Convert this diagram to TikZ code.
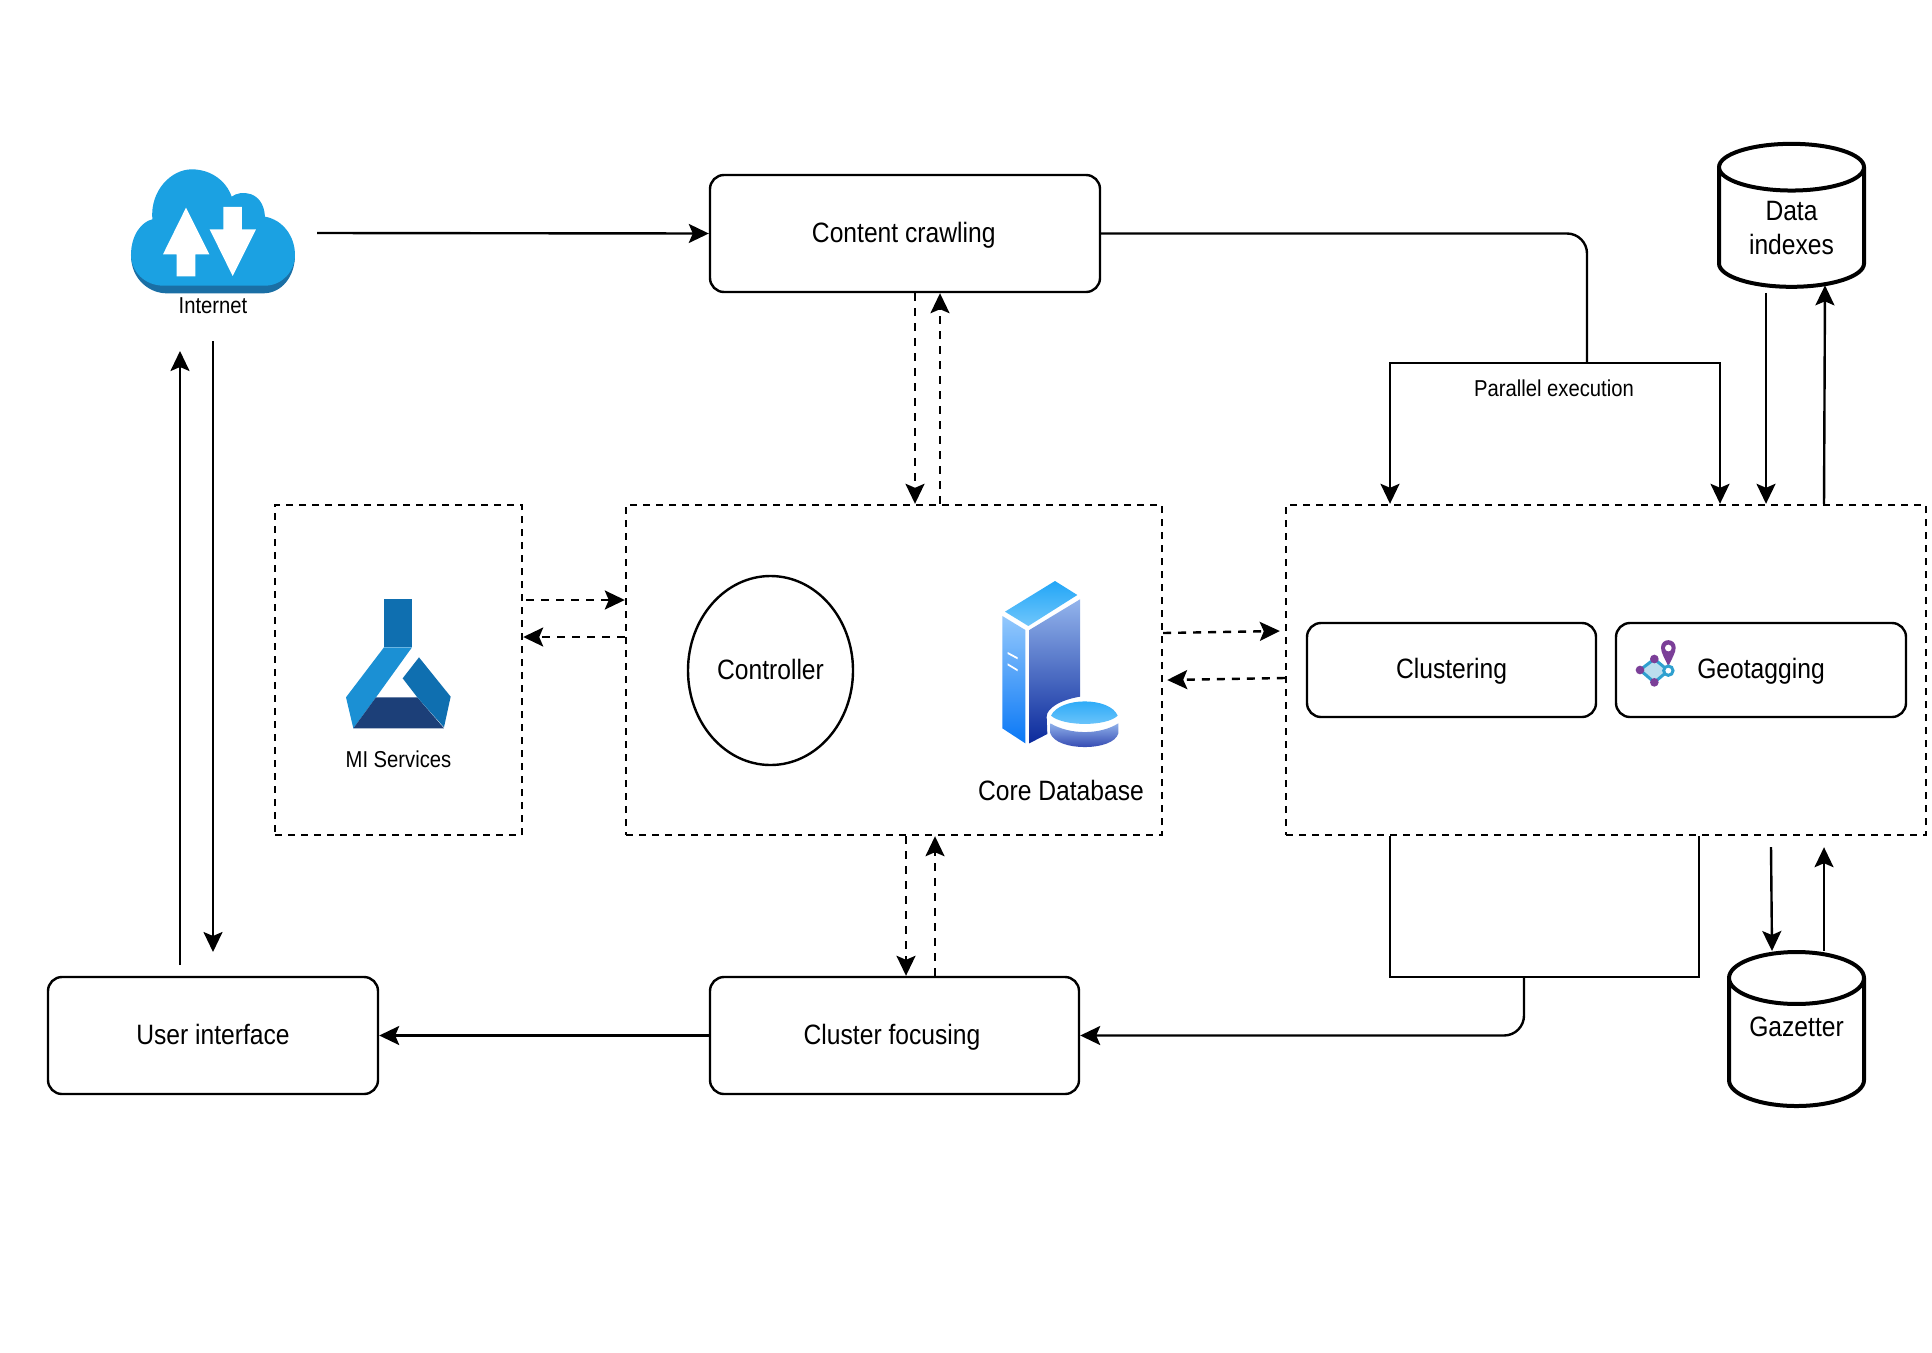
\documentclass[tikz,border=0pt]{standalone}
\usepackage{fontspec}
\setmainfont[FakeStretch=0.88]{Liberation Sans}
\usetikzlibrary{arrows.meta,shapes.geometric}
\definecolor{cloudblue}{HTML}{1BA1E2}
\definecolor{clouddark}{HTML}{1A6FA5}
\definecolor{flaskmid}{HTML}{0F6FB0}
\definecolor{flasklight}{HTML}{1B90D4}
\definecolor{flaskdark}{HTML}{1C3F78}
\definecolor{geopurple}{HTML}{7B3F98}
\definecolor{geoblue}{HTML}{2FA0CF}
\definecolor{geofill}{HTML}{BBDDEE}
\definecolor{srvtopa}{HTML}{22A6F7}
\definecolor{srvtopb}{HTML}{70C6FB}
\definecolor{srvlefta}{HTML}{93C8FC}
\definecolor{srvleftb}{HTML}{0A78F6}
\definecolor{srvrighta}{HTML}{93B4EC}
\definecolor{srvrightb}{HTML}{0B2A9C}
\definecolor{disca}{HTML}{8FB0EA}
\definecolor{discb}{HTML}{2438A8}
\tikzset{
  boxtext/.style={font=\fontsize{28}{34}\selectfont,align=center,text=black},
  smalltext/.style={font=\fontsize{23}{28}\selectfont,align=center,text=black,inner sep=0pt},
  roundbox/.style={boxtext,draw=black,line width=2.4pt,rounded corners=14pt,inner sep=0pt,text height=17.5pt,text depth=0pt},
  dashbox/.style={draw=black,line width=2.4pt,dash pattern=on 7pt off 6pt,inner sep=0pt},
  db/.style={boxtext,draw=black,line width=4pt,cylinder,shape border rotate=90,aspect=0.55,inner sep=0pt},
  conn/.style={draw=black,line width=2.4pt},
  arrow/.style={conn,-{Stealth[length=20pt,width=19pt,inset=4pt]}},
  dasharrow/.style={arrow,dash pattern=on 8pt off 7pt},
}
\begin{document}
\begin{tikzpicture}[x=1pt,y=-1pt]
\useasboundingbox[fill=white] (0,0) rectangle (1932,1352);

% cloud icon
\begin{scope}[shift={(100,140)},x=0.3333pt,y=-0.3333pt]
  \fill[clouddark] (93,345) .. controls (93,420) and (150,460) .. (200,460) -- (490,460) .. controls (545,460) and (585,410) .. (585,345) -- cycle;
  \fill[cloudblue] (93,345) .. controls (93,285) and (125,245) .. (157,238)
    .. controls (150,150) and (215,88) .. (275,88)
    .. controls (335,88) and (380,125) .. (395,170)
    .. controls (420,150) and (490,150) .. (495,230)
    .. controls (550,240) and (585,290) .. (585,345)
    .. controls (585,395) and (545,437) .. (495,437) -- (190,437)
    .. controls (135,437) and (93,395) .. (93,345) -- cycle;
  \fill[white] (258,203) -- (328,343) -- (286,343) -- (286,409) -- (230,409) -- (230,343) -- (189,343) -- cycle;
  \fill[white] (370,201) -- (426,201) -- (426,268) -- (468,268) -- (398,408) -- (329,268) -- (370,268) -- cycle;
\end{scope}

% flask icon
\begin{scope}[shift={(320,570)},x=0.3333pt,y=-0.3333pt]
  \fill[flaskmid] (192,87) rectangle (276,232);
  \fill[flasklight] (192,232) -- (276,232) -- (168,382) -- (100,475) -- (78,382) -- cycle;
  \fill[flaskdark] (168,382) -- (292,382) -- (372,475) -- (100,475) -- cycle;
  \fill[flaskmid] (297,262) -- (392,380) -- (372,472) -- (292,382) -- (248,325) -- cycle;
\end{scope}

% server icon
\begin{scope}[shift={(970,560)},x=0.3333pt,y=-0.3333pt]
  \shade[top color=srvtopa,bottom color=srvtopb] (255,63) -- (322,105) -- (175,198) -- (105,155) -- cycle;
  \shade[top color=srvlefta,bottom color=srvleftb] (97,168) -- (166,210) -- (166,550) -- (97,505) -- cycle;
  \fill[white] (113,276) -- (113,282) -- (143,298) -- (143,292) -- cycle;
  \fill[white] (113,310) -- (113,316) -- (143,334) -- (143,328) -- cycle;
  \shade[top color=srvrighta,bottom color=srvrightb] (178,210) -- (330,118) -- (330,410) .. controls (270,420) and (230,445) .. (230,470) -- (232,522) -- (178,550) -- cycle;
  \shade[top color=disca,bottom color=discb] (241,490) .. controls (300,525) and (390,525) .. (445,490) -- (445,520) .. controls (430,575) and (260,575) .. (241,520) -- cycle;
  \shade[top color=srvtopa,bottom color=srvtopb] (243,467) .. controls (270,410) and (420,410) .. (443,467) .. controls (410,500) and (280,500) .. (243,467) -- cycle;
\end{scope}

% boxes
\node[roundbox,minimum width=390pt,minimum height=117pt] (crawl) at (905,233.5) {\hspace*{-2.5pt}Content crawling};
\node[roundbox,minimum width=369pt,minimum height=117pt] (focus) at (894.5,1035.5) {\hspace*{-5pt}Cluster focusing};
\node[roundbox,minimum width=330pt,minimum height=117pt] (ui) at (213,1035.5) {User interface};
\node[dashbox,minimum width=247pt,minimum height=330pt] (ml) at (398.5,670) {};
\node[dashbox,minimum width=536pt,minimum height=330pt] (core) at (894,670) {};
\node[dashbox,minimum width=640pt,minimum height=330pt] (proc) at (1606,670) {};
\node[roundbox,minimum width=289pt,minimum height=94pt] (clust) at (1451.5,670) {Clustering};
\node[roundbox,minimum width=290pt,minimum height=94pt] (geo) at (1761,670) {Geotagging};
\node[boxtext,draw=black,line width=2.4pt,ellipse,minimum width=165pt,minimum height=189pt,inner sep=0pt,text height=17.5pt,text depth=0pt] (ctrl) at (770.5,670.5) {Controller};
\node[db,minimum width=145pt,minimum height=143pt] (data) at (1791.5,228) {Data\\indexes};
\node[db,minimum width=135pt,minimum height=154pt,text depth=33pt] (gaz) at (1796.5,1043) {Gazetter};
\node[smalltext] (inet) at (213,306) {Internet};
\node[smalltext] (mllabel) at (398.5,759) {MI Services};
\node[boxtext,inner sep=0pt] (corelabel) at (1061,790) {Core Database};
\node[smalltext] (parlabel) at (1554,388) {Parallel execution};

% geotag icon
\begin{scope}[shift={(1610,610)},x=0.3333pt,y=-0.3333pt]
  \filldraw[fill=geofill,draw=geoblue,line width=3pt] (90,180) -- (133,147) -- (175,182) -- (133,217) -- cycle;
  \fill[geopurple] (90,180) circle[radius=13];
  \fill[geopurple] (133,147) circle[radius=13];
  \fill[geopurple] (133,217) circle[radius=13];
  \fill[geopurple] (175,170) .. controls (165,145) and (153,130) .. (153,113) .. controls (153,83) and (197,83) .. (197,113) .. controls (197,130) and (185,145) .. (175,170) -- cycle;
  \fill[white] (175,114) circle[radius=10];
  \filldraw[fill=white,draw=geoblue,line width=3pt] (175,182) circle[radius=14];
\end{scope}

% free ends
\coordinate (inetout) at (317,233);
\coordinate (inetin) at (180,351);
\coordinate (inetdown) at (213,341);
\coordinate (uiup) at (180,965);
\coordinate (uidown) at (213,952);
\coordinate (split) at (1587,363);
\coordinate (merge) at (1524,977);

% connectors
\draw[arrow] (inetout) -- (crawl.west);
\draw[arrow] (uiup) -- (inetin);
\draw[arrow] (inetdown) -- (uidown);
\draw[arrow] (focus.west) -- (ui.east);
\draw[conn,rounded corners=20pt] (crawl.east) -| (split);
\draw[arrow] (split) -| ([xshift=-216pt]proc.north);
\draw[arrow] (split) -| ([xshift=114pt]proc.north);
\draw[conn] ([xshift=-216pt]proc.south) |- (merge) -| ([xshift=93pt]proc.south);
\draw[arrow,rounded corners=20pt] (merge) |- (focus.east);

\draw[dasharrow] ([xshift=10pt]crawl.south) -- ([xshift=21pt]core.north);
\draw[dasharrow] ([xshift=46pt]core.north) -- ([xshift=35pt]crawl.south);
\draw[dasharrow] ([xshift=12pt]core.south) -- ([xshift=11.5pt]focus.north);
\draw[dasharrow] ([xshift=40.5pt]focus.north) -- ([xshift=41pt]core.south);
\draw[dasharrow] ([yshift=70pt,xshift=3pt]ml.east) -- ([yshift=70pt]core.west);
\draw[dasharrow] ([yshift=33pt]core.west) -- ([yshift=33pt]ml.east);
\draw[dasharrow] ([yshift=37pt]core.east) -- ([yshift=39pt,xshift=-5pt]proc.west);
\draw[dasharrow] ([yshift=-8pt]proc.west) -- ([yshift=-10pt,xshift=4pt]core.east);

\draw[arrow] ([xshift=-25.5pt,yshift=-4pt]data.south) -- ([xshift=160pt]proc.north);
\draw[arrow] ([xshift=218pt]proc.north) -- ([xshift=33.5pt,yshift=3.5pt]data.south);
\draw[arrow] ([xshift=165pt,yshift=-11pt]proc.south) -- ([xshift=-24.5pt,yshift=-1pt]gaz.north);
\draw[arrow] ([xshift=27.5pt,yshift=-1pt]gaz.north) -- ([xshift=218pt,yshift=-11pt]proc.south);
\end{tikzpicture}
\end{document}
